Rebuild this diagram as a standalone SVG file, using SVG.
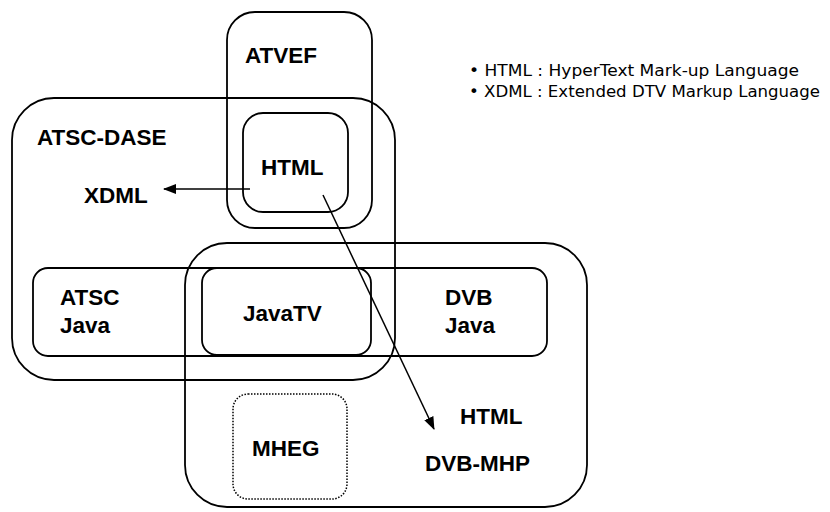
<svg xmlns="http://www.w3.org/2000/svg" width="830" height="512" viewBox="0 0 830 512">
<style>
.box{fill:none;stroke:#000;stroke-width:1.8}
.dot{fill:none;stroke:#000;stroke-width:1.5;stroke-dasharray:1.5 1.5}
.lbl{font-family:"Liberation Sans",Arial,sans-serif;font-weight:bold;font-size:22.5px;fill:#000}
.leg{font-family:"DejaVu Sans","Liberation Sans",sans-serif;font-size:15px;fill:#000}
.con{fill:none;stroke:#000;stroke-width:1.5}
</style>
<defs>
<marker id="ah" viewBox="0 0 13 10" refX="12" refY="5" markerWidth="13" markerHeight="10" markerUnits="userSpaceOnUse" orient="auto">
<path d="M0,0 L13,5 L0,10 z" fill="#000"/>
</marker>
</defs>
<rect width="830" height="512" fill="#fff"/>
<g id="atvef"><rect class="box" x="227" y="12" width="145" height="216" rx="28"/><text class="lbl" x="245" y="63">ATVEF</text></g>
<g id="atsc-dase"><rect class="box" x="12" y="98" width="383" height="282" rx="42"/><text class="lbl" x="37" y="145">ATSC-DASE</text></g>
<g id="html-top"><rect class="box" x="243" y="113" width="105" height="99" rx="20"/><text class="lbl" x="261" y="175">HTML</text></g>
<g id="xdml"><text class="lbl" x="84" y="203">XDML</text></g>
<g id="dvb-mhp"><rect class="box" x="185" y="243" width="402" height="264" rx="42"/><text class="lbl" x="425" y="471">DVB-MHP</text></g>
<g id="java-row"><rect class="box" x="33" y="268" width="514" height="88" rx="15"/></g>
<g id="atsc-java"><text class="lbl" x="60" y="305">ATSC</text><text class="lbl" x="60" y="333">Java</text></g>
<g id="javatv"><rect class="box" x="202" y="268" width="169" height="87" rx="15" stroke-width="2.2"/><text class="lbl" x="243" y="321">JavaTV</text></g>
<g id="dvb-java"><text class="lbl" x="445" y="305">DVB</text><text class="lbl" x="445" y="333">Java</text></g>
<g id="mheg"><rect class="dot" x="233" y="394" width="114" height="105" rx="15"/><text class="lbl" x="252" y="456">MHEG</text></g>
<g id="html-bottom"><text class="lbl" x="460" y="424">HTML</text></g>
<g id="legend"><text class="leg" x="469" y="76" textLength="330" lengthAdjust="spacingAndGlyphs">• HTML : HyperText Mark-up Language</text><text class="leg" x="469" y="97" textLength="351" lengthAdjust="spacingAndGlyphs">• XDML : Extended DTV Markup Language</text></g>
<g id="connectors">
<line class="con" x1="250" y1="189" x2="164" y2="189" marker-end="url(#ah)"/>
<line class="con" x1="323" y1="195" x2="434" y2="429" marker-end="url(#ah)"/>
</g>
</svg>
